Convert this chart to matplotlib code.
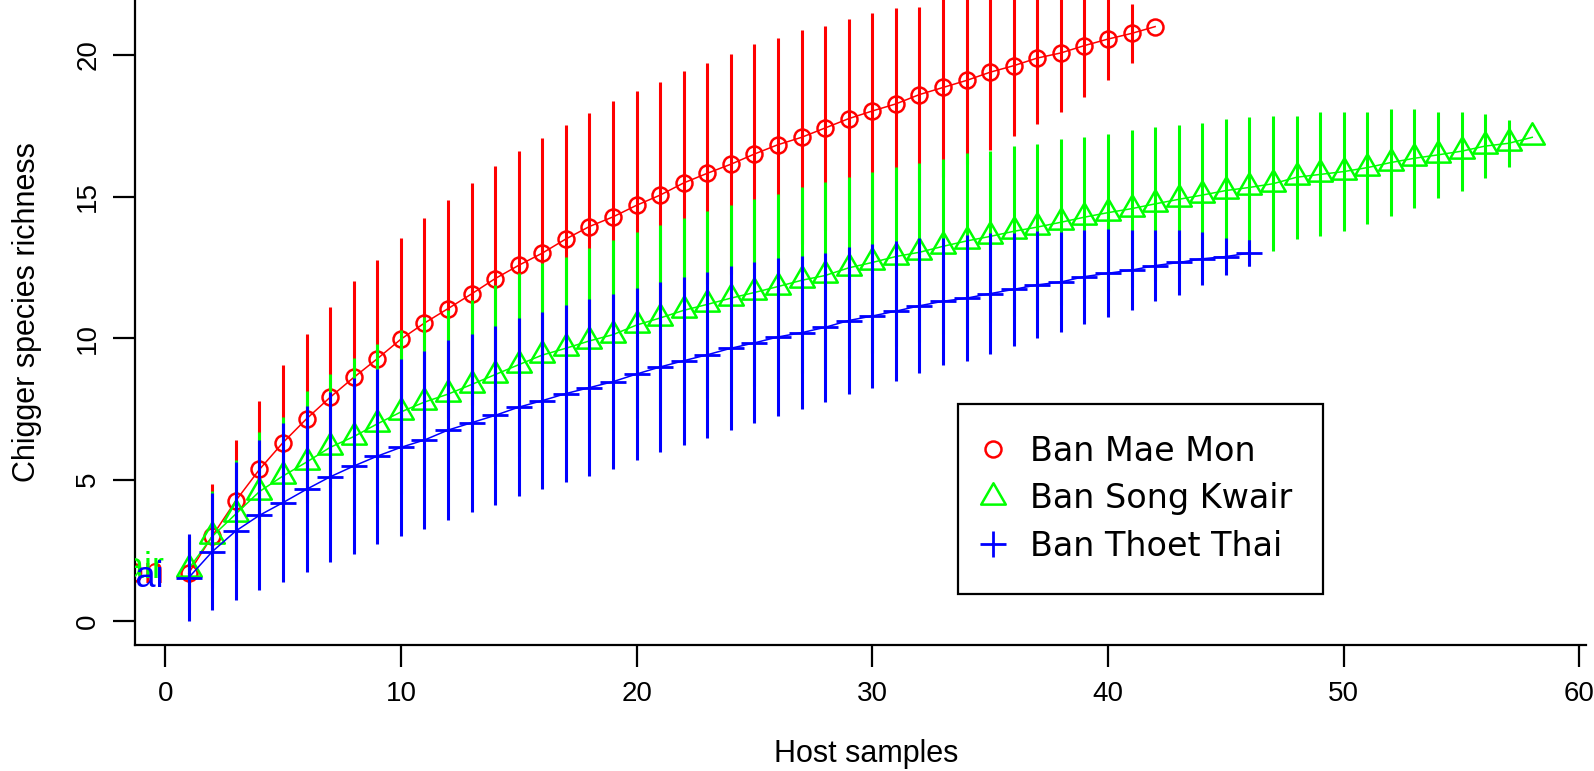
import matplotlib
matplotlib.use("Agg")
import matplotlib.pyplot as plt
from matplotlib.lines import Line2D
from matplotlib.path import Path

plt.rcParams["font.family"] = ["Liberation Sans", "DejaVu Sans"]

# ---------------- data ----------------
site_names = ["Ban Mae Mon", "Ban Song Kwair", "Ban Thoet Thai"]

samples_mae_mon = list(range(1, 43))
mean_mae_mon = [1.70, 3.01, 4.26, 5.36, 6.31, 7.15, 7.91, 8.61, 9.27, 9.96,
                10.53, 11.04, 11.56, 12.10, 12.57, 13.00, 13.50, 13.94, 14.28, 14.69,
                15.05, 15.48, 15.82, 16.14, 16.50, 16.83, 17.09, 17.42, 17.75, 18.02,
                18.27, 18.60, 18.85, 19.10, 19.39, 19.62, 19.89, 20.07, 20.33, 20.56,
                20.76, 21.00]
sd_mae_mon = [1.30, 1.83, 2.14, 2.43, 2.73, 2.98, 3.18, 3.40, 3.50, 3.58,
              3.72, 3.85, 3.92, 3.99, 4.02, 4.08, 4.02, 4.01, 4.11, 4.02,
              4.01, 3.94, 3.91, 3.88, 3.87, 3.77, 3.78, 3.61, 3.53, 3.45,
              3.39, 3.10, 3.15, 2.95, 2.75, 2.48, 2.33, 2.08, 1.83, 1.46,
              1.05, 0.00]

samples_song_kwair = list(range(1, 59))
mean_song_kwair = [1.85, 3.00, 3.79, 4.58, 5.13, 5.62, 6.14, 6.52, 6.97, 7.39,
                   7.74, 8.02, 8.36, 8.71, 9.06, 9.40, 9.64, 9.90, 10.12, 10.46,
                   10.71, 10.98, 11.19, 11.41, 11.61, 11.82, 12.04, 12.21, 12.48, 12.67,
                   12.88, 13.03, 13.24, 13.43, 13.59, 13.77, 13.92, 14.09, 14.27, 14.43,
                   14.57, 14.74, 14.90, 15.05, 15.21, 15.32, 15.45, 15.68, 15.78, 15.88,
                   16.02, 16.20, 16.35, 16.47, 16.60, 16.78, 16.88, 17.09]
sd_song_kwair = [1.00, 1.60, 1.90, 2.10, 2.10, 2.50, 2.60, 2.78, 2.82, 2.91,
                 3.00, 2.98, 3.00, 3.16, 3.24, 3.25, 3.24, 3.27, 3.35, 3.28,
                 3.27, 3.27, 3.31, 3.28, 3.31, 3.26, 3.28, 3.30, 3.20, 3.20,
                 3.15, 3.16, 3.10, 3.12, 3.02, 3.00, 2.94, 2.93, 2.83, 2.78,
                 2.77, 2.71, 2.63, 2.55, 2.51, 2.49, 2.39, 2.17, 2.19, 2.10,
                 1.98, 1.88, 1.74, 1.52, 1.40, 1.12, 0.83, 0.00]

samples_thoet_thai = list(range(1, 47))
mean_thoet_thai = [1.54, 2.46, 3.19, 3.74, 4.19, 4.66, 5.10, 5.48, 5.83, 6.14,
                   6.40, 6.75, 7.01, 7.27, 7.56, 7.79, 8.04, 8.25, 8.46, 8.73,
                   8.98, 9.20, 9.41, 9.64, 9.83, 10.04, 10.19, 10.38, 10.62, 10.78,
                   10.95, 11.14, 11.30, 11.41, 11.57, 11.72, 11.88, 11.98, 12.17, 12.29,
                   12.40, 12.56, 12.67, 12.80, 12.88, 13.00]
sd_thoet_thai = [1.55, 2.08, 2.43, 2.65, 2.81, 2.93, 3.01, 3.12, 3.09, 3.13,
                 3.15, 3.17, 3.15, 3.15, 3.15, 3.13, 3.13, 3.12, 3.10, 3.05,
                 3.01, 2.97, 2.93, 2.89, 2.84, 2.78, 2.70, 2.64, 2.60, 2.54,
                 2.47, 2.39, 2.25, 2.23, 2.13, 2.00, 1.89, 1.78, 1.66, 1.55,
                 1.42, 1.26, 1.14, 0.93, 0.67, 0.45]

x_ticks = [0, 10, 20, 30, 40, 50, 60]
y_ticks = [0, 5, 10, 15, 20]

# ---------------- styling ----------------
W, H = 1594, 771
fig = plt.figure(figsize=(W / 100, H / 100), dpi=100)
ax = fig.add_axes([135 / W, 1 - 645 / H, (1586 - 135) / W, 645 / H])

tri_path = Path([(0, 1.155), (-1, -0.577), (1, -0.577), (0, 1.155)],
                [Path.MOVETO, Path.LINETO, Path.LINETO, Path.CLOSEPOLY])

series = [
    (samples_mae_mon, mean_mae_mon, sd_mae_mon, "#ff0000", "o", 11.5, 1.8),
    (samples_song_kwair, mean_song_kwair, sd_song_kwair, "#00ff00", tri_path, 20.5, 1.8),
    (samples_thoet_thai, mean_thoet_thai, sd_thoet_thai, "#0000ff", "+", 19.0, 2.0),
]

handles = []
for i, (xs, ms, sds, col, mk, msz, mew) in enumerate(series):
    z = 2 + i
    lo = [m - s for m, s in zip(ms, sds)]
    hi = [m + s for m, s in zip(ms, sds)]
    ax.vlines(xs, lo, hi, colors=col, lw=2.2, zorder=z)
    ax.plot(xs, ms, color=col, lw=1.1, zorder=z + 0.1)
    ax.plot(xs, ms, linestyle="none", marker=mk, ms=msz, mfc="none", mec=col,
            mew=mew, zorder=z + 0.2)
    handles.append(Line2D([], [], linestyle="none", marker=mk, ms=msz, mfc="none",
                          mec=col, mew=mew))
    # curve labels drawn left of the first point (mostly clipped, as in the reference)
    ax.text(-0.05, ms[0], site_names[i], color=col, ha="right", va="center",
            fontsize=26, clip_on=True, zorder=z + 0.3)

ax.set_xlim(-1.28, 60.28)
ax.set_ylim(-0.84, 21.94)
ax.set_xticks(x_ticks)
ax.set_yticks(y_ticks)

for side in ("top", "right"):
    ax.spines[side].set_visible(False)
for side in ("left", "bottom"):
    ax.spines[side].set_linewidth(1.6)

ax.tick_params(axis="both", direction="out", length=15.8, width=1.6, labelsize=20,
               colors="black")
ax.tick_params(axis="x", pad=10)
ax.tick_params(axis="y", pad=8.5, labelrotation=90)
for lbl in ax.get_yticklabels():
    lbl.set_va("center")

ax.set_xlabel("Host samples", fontsize=22, labelpad=23.5)
ax.set_ylabel("Chigger species richness", fontsize=22, labelpad=24)
ax.xaxis.label.set_x(0.504)
ax.yaxis.label.set_y(0.5155)

leg = ax.legend(handles, site_names, loc="upper left",
                bbox_to_anchor=(958.3 / W, 1 - 404 / H), bbox_transform=fig.transFigure,
                borderaxespad=0, frameon=True, fancybox=False, framealpha=1,
                edgecolor="black", prop={"family": "DejaVu Sans", "size": 24},
                borderpad=0.93, handlelength=0.2, handletextpad=1.02,
                labelspacing=0.43)
leg.get_frame().set_linewidth(1.6)

fig.savefig("out.png", dpi=100)
